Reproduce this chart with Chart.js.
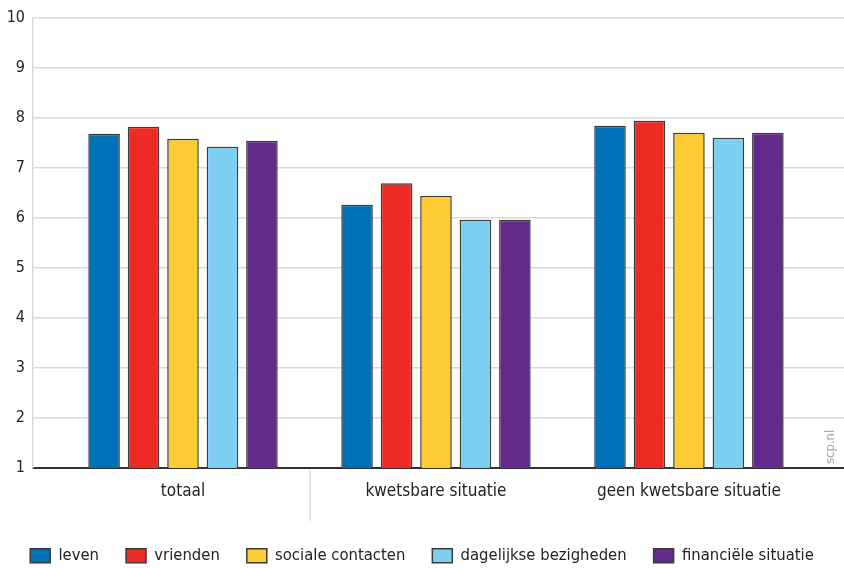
<!DOCTYPE html>
<html>
<head>
<meta charset="utf-8">
<script src="https://cdn.jsdelivr.net/npm/chart.js@4/dist/chart.umd.min.js"></script>
<style>
  body { margin: 0; background: #fff; }
  #wrap { width: 844px; height: 568px; position: relative; }
</style>
</head>
<body>
<div id="wrap"><canvas id="chart"></canvas></div>
<script>
// categories and series
const categories = ['totaal', 'kwetsbare situatie', 'geen kwetsbare situatie'];
const seriesNames = ['leven', 'vrienden', 'sociale contacten', 'dagelijkse bezigheden', 'financiële situatie'];
const leven = [7.68, 6.26, 7.84];
const vrienden = [7.82, 6.69, 7.94];
const socialeContacten = [7.58, 6.44, 7.70];
const dagelijkseBezigheden = [7.42, 5.96, 7.60];
const financieleSituatie = [7.54, 5.96, 7.70];
const yTicks = [1, 2, 3, 4, 5, 6, 7, 8, 9, 10];

const colors = ['#0070b8', '#ee2a24', '#fdcb32', '#7dcff2', '#65298b'];
const FONT = "'Liberation Sans Narrow', 'DejaVu Sans Condensed', sans-serif";

const allSeries = [leven, vrienden, socialeContacten, dagelijkseBezigheden, financieleSituatie];

// separator between first and second group, and scp.nl mark
const extras = {
    id: 'extras',
    afterDraw(chart) {
        const ctx = chart.ctx;
        const x = chart.scales.x;
        const area = chart.chartArea;
        ctx.save();
        const sx = (x.getPixelForValue(0) + x.getPixelForValue(1)) / 2;
        ctx.strokeStyle = '#d0d0d0';
        ctx.lineWidth = 1;
        ctx.beginPath();
        ctx.moveTo(sx + 0.5, area.bottom + 2);
        ctx.lineTo(sx + 0.5, area.bottom + 53);
        ctx.stroke();

        ctx.translate(area.right - 13, area.bottom - 4);
        ctx.rotate(-Math.PI / 2);
        ctx.fillStyle = '#a0a0a0';
        ctx.font = "13px " + FONT;
        ctx.textAlign = 'left';
        ctx.textBaseline = 'middle';
        ctx.fillText('scp.nl', 0, 0);
        ctx.restore();
    }
};

new Chart(document.getElementById('chart'), {
    type: 'bar',
    data: {
        datasets: allSeries.map((vals, i) => ({
            label: seriesNames[i],
            data: vals.map((v, j) => ({ x: j, y: v })),
            backgroundColor: colors[i],
            borderColor: '#3a3a3a',
            borderWidth: 1.5,
            categoryPercentage: 0.78,
            barPercentage: 0.8
        }))
    },
    options: {
        responsive: true,
        maintainAspectRatio: false,
        animation: false,
        layout: { padding: { top: 4, right: 0, left: 0, bottom: -6 } },
        scales: {
            x: {
                type: 'linear',
                offset: false,
                min: -0.593,
                max: 2.613,
                afterBuildTicks: (scale) => {
                    scale.ticks = categories.map((c, i) => ({ value: i }));
                },
                afterFit: (scale) => { scale.height += 14; },
                grid: { display: false, offset: false },
                border: { display: true, color: '#333', width: 2 },
                ticks: {
                    autoSkip: false,
                    maxRotation: 0,
                    padding: 5,
                    color: '#222',
                    font: { family: FONT, size: 17 },
                    callback: (v) => categories[v]
                }
            },
            y: {
                min: 1,
                max: 10,
                afterBuildTicks: (scale) => {
                    scale.ticks = yTicks.map(v => ({ value: v }));
                },
                afterFit: (scale) => { scale.width = 33; },
                grid: { color: '#d9d9d9', lineWidth: 1.5, drawTicks: false },
                border: { display: true, color: '#d9d9d9', width: 1.5 },
                ticks: {
                    padding: 8,
                    color: '#222',
                    font: { family: FONT, size: 16 }
                }
            }
        },
        plugins: {
            legend: {
                position: 'bottom',
                labels: {
                    boxWidth: 20,
                    boxHeight: 14,
                    padding: 27,
                    color: '#222',
                    font: { family: FONT, size: 16.5 }
                }
            },
            tooltip: { enabled: false }
        }
    },
    plugins: [extras]
});
</script>
</body>
</html>
